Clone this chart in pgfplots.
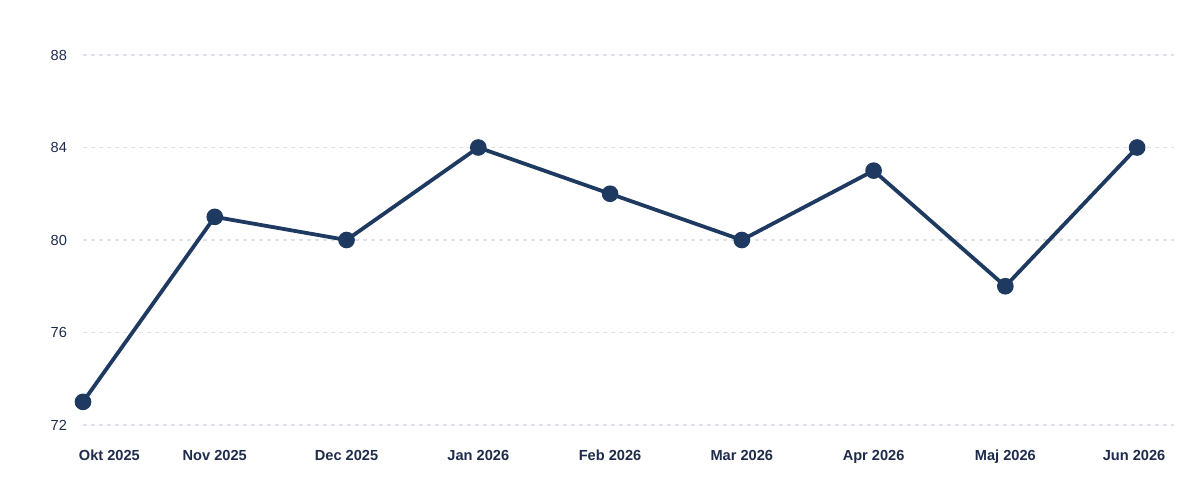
\documentclass[border=0pt]{standalone}
\usepackage{pgfplots}
\pgfplotsset{compat=1.18}
\usepackage{fontspec}
\setmainfont{Liberation Sans}
\definecolor{navy}{HTML}{1F3A60}
\definecolor{txt}{HTML}{1E2B4B}
\definecolor{gridc}{HTML}{DDE1EA}
\begin{document}
\begin{tikzpicture}[x=1pt,y=1pt]
\useasboundingbox (0,0) rectangle (601,249.5);
\begin{axis}[
  at={(41.5pt,37pt)}, anchor=south west,
  scale only axis, width=545.5pt, height=185pt,
  xmin=0, xmax=8.28, ymin=72, ymax=88,
  clip=false,
  axis line style={draw=none},
  tick style={draw=none},
  xtick={0,...,8},
  xticklabels={\makebox[0pt][l]{\hspace{-2pt}Okt 2025},Nov 2025,Dec 2025,Jan 2026,Feb 2026,Mar 2026,Apr 2026,Maj 2026,\hspace*{-3pt}Jun 2026},
  ytick={72,76,80,84,88},
  xmajorgrids=false,
  ymajorgrids=true,
  major grid style={draw=gridc, line width=0.6pt, dash pattern=on 2pt off 2pt},
  /pgf/number format/assume math mode=true,
  ticklabel style={font=\fontsize{7.3}{8}\selectfont, text=txt},
  xticklabel style={font=\fontsize{7.3}{8}\selectfont\bfseries, yshift=-9pt},
  yticklabel style={xshift=-4.5pt},
]
\addplot[navy, line width=1.9pt, mark=*, mark size=3.2pt, mark options={fill=navy, draw=navy}]
  coordinates {(0,73) (1,81) (2,80) (3,84) (4,82) (5,80) (6,83) (7,78) (8,84)};
\end{axis}
\end{tikzpicture}
\end{document}
